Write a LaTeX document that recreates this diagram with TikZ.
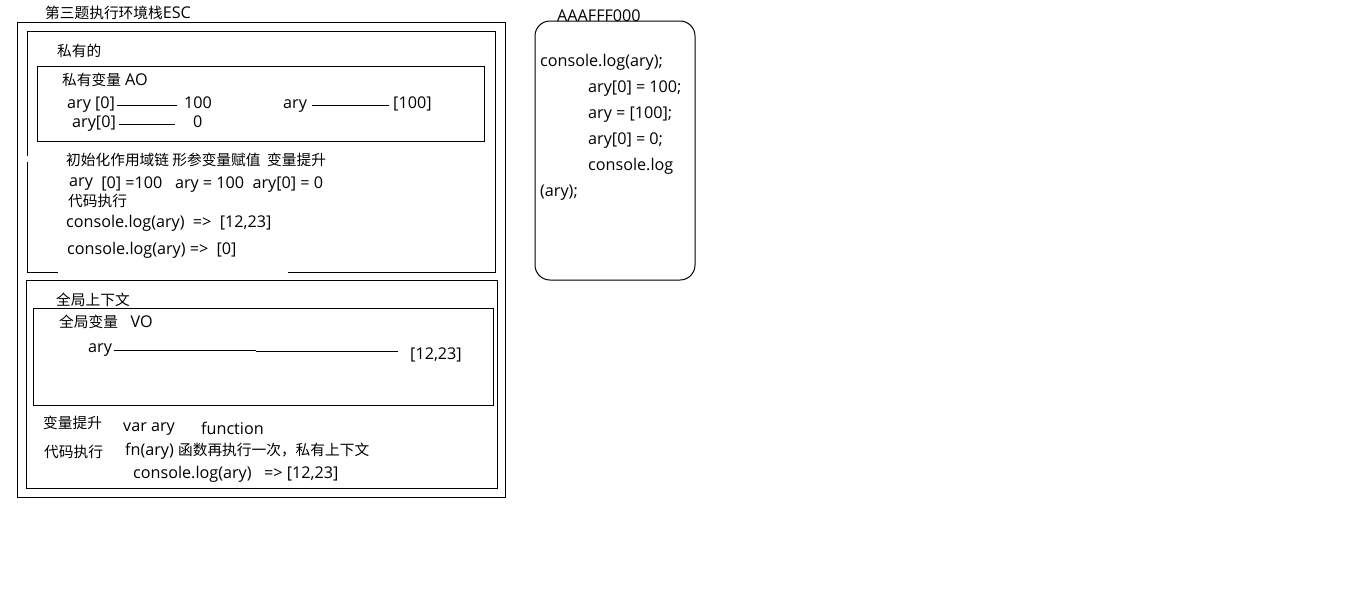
\documentclass[tikz,border=0pt]{standalone}
\usepackage{fontspec}
\setmainfont{Open Sans}[Scale=1.1]
\newfontfamily\cjk{Noto Sans CJK SC}
\begin{document}
\begin{tikzpicture}[
    x=1pt, y=-1pt,
    every node/.style={font=\fontsize{14.7}{17}\selectfont},
    lbl/.style={
        anchor=west,
        inner sep=0pt,
        text height=11pt,
        text depth=3pt,
        yshift=-2pt,
    },
    frame/.style={draw=black, line width=1pt},
    link/.style={draw=black, line width=1pt},
]
\useasboundingbox (0,0) rectangle (1360,605);

% --- Execution context stack ---
\node[lbl] (title) at (45,13) {{\cjk 第三题执行环境栈}ESC};
\draw[frame] (17,22) rectangle (505,497);

% Private context (its frame is broken in two places)
\draw[frame] (27,156) -- (27,31) -- (495,31) -- (495,272) -- (288,272);
\draw[frame] (58,272) -- (27,272) -- (27,162);
\node[lbl] (priv) at (57,50) {\cjk 私有的};

% AO
\draw[frame] (37,66) rectangle (484,141);
\node[lbl] (ao) at (62,79) {{\cjk 私有变量} AO};
\node[lbl] (aryA) at (67,102) {ary [0]};
\node[lbl] (valA) at (184,102) {100};
\node[lbl] (aryB) at (283,102) {ary};
\node[lbl] (valB) at (393,102) {[100]};
\node[lbl] (aryC) at (72,121) {ary[0]};
\node[lbl] (valC) at (193,121) {0};
\draw[link, shorten <=2pt, shorten >=7pt] ([yshift=-1pt]aryA.east) -- ([yshift=-1pt]aryA.east -| valA.west);
\draw[link, shorten <=5pt, shorten >=4pt] ([yshift=-1pt]aryB.east) -- ([yshift=-1pt]aryB.east -| valB.west);
\draw[link, shorten <=3pt, shorten >=18pt] ([yshift=-1pt]aryC.east) -- ([yshift=-1pt]aryC.east -| valC.west);

\node[lbl] (init) at (66,159) {\cjk 初始化作用域链 形参变量赋值\ \ 变量提升};
\node[lbl] (steps) at (69,182) {\raisebox{2pt}{ary}\ \ [0] =100\ \ \ ary = 100\ \ ary[0] = 0};
\node[lbl] (runA) at (68,200) {\cjk 代码执行};
\node[lbl] (logA) at (66,221) {console.log(ary)\ \ =>\ \ [12,23]};
\node[lbl] (logB) at (67,248) {console.log(ary) =>\ \ [0]};

% Global context
\draw[frame] (26,280) rectangle (497,488);
\node[lbl] (glob) at (56,299) {\cjk 全局上下文};
\draw[frame] (33,308) rectangle (493,405);
\node[lbl] (vo) at (59,321) {{\cjk 全局变量}\ \ \ VO};
\node[lbl] (aryG) at (88,346) {ary};
\node[lbl] (valG) at (410,353) {[12,23]};
\coordinate (midG) at (256,350);
\draw[link, shorten <=2pt] (aryG.east |- midG) -- (midG);
\draw[link, shorten >=12pt] ([yshift=-1pt]midG) -- ([yshift=-1pt]midG -| valG.west);

\node[lbl] (hoist) at (43,422) {\cjk 变量提升};
\node[lbl] (var) at (123,425) {var ary};
\node[lbl] (func) at (201,428) {function};
\node[lbl] (runG) at (44,451) {\cjk 代码执行};
\node[lbl] (call) at (125,449) {fn(ary) {\cjk 函数再执行一次，私有上下文}};
\node[lbl] (logG) at (133,472) {console.log(ary)\ \ \ => [12,23]};

% --- Heap object ---
\draw[frame, rounded corners=15pt] (535,21) rectangle (695,280);
\node[anchor=base west, inner sep=0pt] (addr) at (557,21) {AAAFFF000};
\node[lbl] (codeA) at (540,60) {console.log(ary);};
\node[lbl] (codeB) at (588,86) {ary[0] = 100;};
\node[lbl] (codeC) at (588,112) {ary = [100];};
\node[lbl] (codeD) at (588,138) {ary[0] = 0;};
\node[lbl] (codeE) at (588,164) {console.log};
\node[lbl] (codeF) at (540,190) {(ary);};

\end{tikzpicture}
\end{document}
